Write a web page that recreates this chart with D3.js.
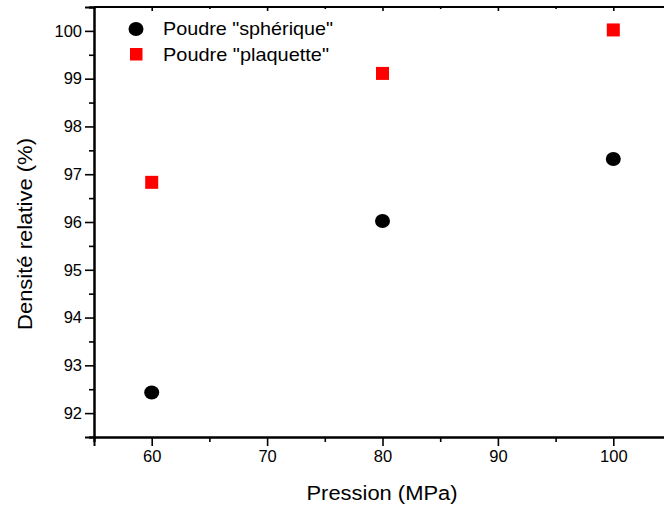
<!DOCTYPE html>
<html><head><meta charset="utf-8">
<script src="https://cdn.jsdelivr.net/npm/d3@7"></script>
<style>body{margin:0;background:#fff}svg{display:block}text{font-family:"Liberation Sans",Arial,sans-serif;fill:#000}</style>
</head><body><svg id="c" width="664" height="509"></svg>
<script>
const pressures = [60, 80, 100];
const spherique = [92.43, 96.02, 97.32];
const plaquette = [96.83, 99.11, 100.02];
const xTicks = [60, 70, 80, 90, 100];
const yTicks = [92, 93, 94, 95, 96, 97, 98, 99, 100];
const seriesNames = ['Poudre "sphérique"', 'Poudre "plaquette"'];

const svg = d3.select("#c");
const x = d3.scaleLinear().domain([55, 105]).range([94, 671]);
const y = d3.scaleLinear().domain([91.5, 100.5]).range([437, 7]);

const xMinor = d3.range(55, 105.01, 5).filter(v => !xTicks.includes(v));
const yMinor = d3.range(91.5, 100.51, 0.5).filter(v => !yTicks.includes(v));

// bottom axis
const gx = svg.append("g").attr("transform", "translate(0,437)");
gx.call(d3.axisBottom(x).tickValues(xTicks).tickSize(9).tickPadding(4).tickFormat(d3.format("d")));
gx.append("g").call(d3.axisBottom(x).tickValues(xMinor).tickSize(5).tickFormat(""));
// top axis (inward ticks)
const gt = svg.append("g").attr("transform", "translate(0,7)");
gt.call(d3.axisBottom(x).tickValues(xTicks).tickSize(4).tickFormat(""));
gt.append("g").call(d3.axisBottom(x).tickValues(xMinor).tickSize(2).tickFormat(""));
gt.append("line").attr("x1", x(55)).attr("x2", 664).attr("stroke", "#000").attr("stroke-width", 2);
// left axis
const gy = svg.append("g").attr("transform", "translate(94,0)");
gy.call(d3.axisLeft(y).tickValues(yTicks).tickSize(9).tickPadding(3).tickFormat(d3.format("d")));
gy.append("g").call(d3.axisLeft(y).tickValues(yMinor).tickSize(5).tickFormat(""));

svg.selectAll(".domain").attr("stroke-width", 2);
svg.selectAll(".tick line").attr("stroke-width", 1.6);
gt.selectAll(".domain").remove();
svg.selectAll(".tick text").style("font-size", "16.5px").style("font-family", '"Liberation Sans",Arial,sans-serif');
gx.selectAll(".tick text").attr("dy", "0.71em");

// data
svg.append("g").selectAll("rect").data(pressures).join("rect")
  .attr("x", (d) => x(d) - 6.5).attr("y", (d, i) => y(plaquette[i]) - 6.5)
  .attr("width", 13).attr("height", 13).attr("fill", "#ff0000");
svg.append("g").selectAll("ellipse").data(pressures).join("ellipse")
  .attr("cx", d => x(d)).attr("cy", (d, i) => y(spherique[i]))
  .attr("rx", 7.5).attr("ry", 7).attr("fill", "#000");

// legend
const lg = svg.append("g");
lg.append("ellipse").attr("cx", 136).attr("cy", 29).attr("rx", 7.5).attr("ry", 7).attr("fill", "#000");
lg.append("rect").attr("x", 130).attr("y", 48).attr("width", 12.5).attr("height", 12.5).attr("fill", "#ff0000");
lg.selectAll("text").data(seriesNames).join("text")
  .attr("x", 163).attr("y", (d, i) => 35 + i * 26)
  .style("font-size", "18.5px").attr("textLength", (d, i) => i === 0 ? 170 : 166).attr("lengthAdjust", "spacingAndGlyphs")
  .text(d => d);

// axis titles
svg.append("text").attr("x", 382).attr("y", 500).attr("text-anchor", "middle")
  .style("font-size", "20px").attr("textLength", 151).attr("lengthAdjust", "spacingAndGlyphs").text("Pression (MPa)");
svg.append("text").attr("transform", "translate(32,234) rotate(-90)").attr("text-anchor", "middle")
  .style("font-size", "20px").attr("textLength", 192).attr("lengthAdjust", "spacingAndGlyphs").text("Densité relative (%)");
</script></body></html>
